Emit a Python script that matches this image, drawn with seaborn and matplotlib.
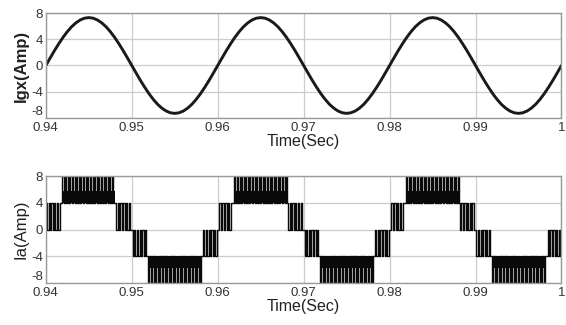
import numpy as np
import pandas as pd
import matplotlib
matplotlib.use("Agg")
import matplotlib.pyplot as plt
import seaborn as sns
from matplotlib import font_manager

# ---------------- data ----------------
x_ticks = [0.94, 0.95, 0.96, 0.97, 0.98, 0.99, 1.0]
x_tick_labels = ["0.94", "0.95", "0.96", "0.97", "0.98", "0.99", "1"]
y_ticks = [-8, -4, 0, 4, 8]
y_tick_labels = ["-8", "-4", "0", "4", "8"]

# grid current Igx sampled every 0.5 ms from 0.94 s to 1.00 s
igx_time = np.linspace(0.94, 1.0, 121)
igx_values = [
    0.00, 1.14, 2.26, 3.31, 4.29, 5.16, 5.91, 6.50, 6.94, 7.21, 7.30, 7.21, 6.94, 6.50, 5.91, 5.16, 4.29, 3.31, 2.26, 1.14,
    0.00, -1.14, -2.26, -3.31, -4.29, -5.16, -5.91, -6.50, -6.94, -7.21, -7.30, -7.21, -6.94, -6.50, -5.91, -5.16, -4.29, -3.31, -2.26, -1.14,
    0.00, 1.14, 2.26, 3.31, 4.29, 5.16, 5.91, 6.50, 6.94, 7.21, 7.30, 7.21, 6.94, 6.50, 5.91, 5.16, 4.29, 3.31, 2.26, 1.14,
    0.00, -1.14, -2.26, -3.31, -4.29, -5.16, -5.91, -6.50, -6.94, -7.21, -7.30, -7.21, -6.94, -6.50, -5.91, -5.16, -4.29, -3.31, -2.26, -1.14,
    0.00, 1.14, 2.26, 3.31, 4.29, 5.16, 5.91, 6.50, 6.94, 7.21, 7.30, 7.21, 6.94, 6.50, 5.91, 5.16, 4.29, 3.31, 2.26, 1.14,
    0.00, -1.14, -2.26, -3.31, -4.29, -5.16, -5.91, -6.50, -6.94, -7.21, -7.30, -7.21, -6.94, -6.50, -5.91, -5.16, -4.29, -3.31, -2.26, -1.14,
    0.00,
]

# inverter current Ia: switching bands (start, end, lower level, upper level)
band_start = [0.9400, 0.9419, 0.9482, 0.9501, 0.9519, 0.9583,
              0.9602, 0.9619, 0.9682, 0.9701, 0.9719, 0.9783,
              0.9802, 0.9819, 0.9882, 0.9901, 0.9919, 0.9984]
band_end = [0.9416, 0.9480, 0.9498, 0.9517, 0.9581, 0.9599,
            0.9617, 0.9681, 0.9698, 0.9717, 0.9781, 0.9799,
            0.9817, 0.9881, 0.9898, 0.9917, 0.9981, 1.0000]
band_low = [0, 4, 0, -4, -8, -4, 0, 4, 0, -4, -8, -4, 0, 4, 0, -4, -8, -4]
band_high = [4, 8, 4, 0, -4, 0, 4, 8, 4, 0, -4, 0, 4, 8, 4, 0, -4, 0]
switch_half_period = 0.00016   # read from stripe spacing
dense_fraction = 0.45          # solid-looking inner part of the outer bands

# ---------------- build inverter step signal ----------------
ts, vs = [], []
nb = len(band_start)
for i in range(nb):
    s, e, lo, hi = band_start[i], band_end[i], band_low[i], band_high[i]
    n = max(2, int(round((e - s) / switch_half_period)))
    tt = np.linspace(s, e, n + 1)[:-1]
    if i > 0:
        prev = {band_low[i - 1], band_high[i - 1]}
        start_val = hi if lo in prev else lo
    else:
        start_val = hi
    other = lo if start_val == hi else hi
    for k, t in enumerate(tt):
        ts.append(t)
        vs.append(start_val if k % 2 == 0 else other)
    if i < nb - 1:
        nxt = {band_low[i + 1], band_high[i + 1]}
        shared = lo if lo in nxt else hi
    else:
        shared = lo
    ts.append(e)
    vs.append(shared)
ia_df = pd.DataFrame({"t": ts, "ia": vs})
igx_df = pd.DataFrame({"t": igx_time, "igx": igx_values})

# ---------------- style ----------------
sns.set_style("white")
avail = {f.name for f in font_manager.fontManager.ttflist}
fam = ["Liberation Sans Narrow", "Liberation Sans", "DejaVu Sans"]
fam = [f for f in fam if f in avail] or ["DejaVu Sans"]
plt.rcParams["font.family"] = fam

fig = plt.figure(figsize=(5.66, 3.25), dpi=100)
ax1 = fig.add_axes([0.081, 0.637, 0.911, 0.323])
ax2 = fig.add_axes([0.081, 0.129, 0.911, 0.329])

grid_c = "#cccccc"
for ax in (ax1, ax2):
    ax.set_xlim(0.94, 1.0)
    ax.set_ylim(-8, 8)
    ax.set_xticks(x_ticks)
    ax.set_xticklabels(x_tick_labels)
    ax.set_yticks(y_ticks)
    ax.set_yticklabels(y_tick_labels)
    ax.grid(True, color=grid_c, linewidth=0.9)
    ax.set_axisbelow(True)
    for sp in ax.spines.values():
        sp.set_color("#9a9a9a")
        sp.set_linewidth(1.0)
    ax.tick_params(axis="both", labelsize=9.5, colors="#333333", length=0, pad=2)
    ax.tick_params(axis="x", pad=3)
    ax.get_yticklabels()[0].set_va("bottom")
    ax.set_xlabel("Time(Sec)", fontsize=11.5, color="#222222", labelpad=0)

sns.lineplot(data=igx_df, x="t", y="igx", ax=ax1, color="#1a1a1a",
             linewidth=2.1, estimator=None, sort=False)
ax1.set_ylabel("Igx(Amp)", fontsize=12, color="#222222", fontweight="bold",
               family=["Liberation Sans", "DejaVu Sans"], labelpad=2)

# dense inner part of outer bands
for i in range(nb):
    lo, hi = band_low[i], band_high[i]
    if abs(lo) == 8 or abs(hi) == 8:
        inner = lo if abs(lo) < abs(hi) else hi
        outer = hi if inner == lo else lo
        edge = inner + dense_fraction * (outer - inner)
        ax2.fill_between([band_start[i], band_end[i]], inner, edge,
                         color="#0a0a0a", linewidth=0)
sns.lineplot(data=ia_df, x="t", y="ia", ax=ax2, color="#0a0a0a",
             linewidth=1.0, estimator=None, sort=False, drawstyle="steps-post")
ax2.set_ylabel("Ia(Amp)", fontsize=12, color="#222222",
               family=["Liberation Sans", "DejaVu Sans"], labelpad=2)

fig.savefig("out.png", dpi=100)
